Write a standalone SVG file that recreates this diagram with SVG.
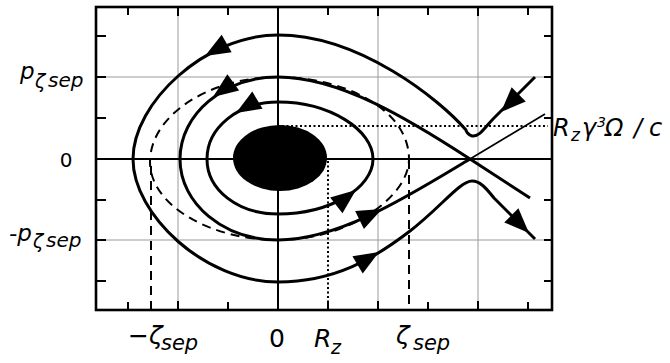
<svg xmlns="http://www.w3.org/2000/svg" width="670" height="363" viewBox="0 0 670 363">
<style>
.grid{stroke:#9a9a9a;stroke-width:1;fill:none}
.axis{stroke:#000;stroke-width:2;fill:none}
.frame{stroke:#000;stroke-width:2.6;fill:none}
.tick{stroke:#000;stroke-width:2}
.curve{stroke:#000;stroke-width:3;fill:none;stroke-linejoin:round}
.thin{stroke:#000;stroke-width:1.8;fill:none}
.dash{stroke:#000;stroke-width:2;fill:none;stroke-dasharray:9 6}
.dot{stroke:#000;stroke-width:2;fill:none;stroke-dasharray:2 2.5}
text{font-family:"DejaVu Sans","Liberation Sans",sans-serif;fill:#000}
.it{font-style:italic}
</style>
<defs>
<path id="ah" d="M0,0 L-25,-10 L-25,10 Z" fill="#000"/>
</defs>
<rect width="670" height="363" fill="#fff"/>
<g id="grid">
<line class="grid" x1="178" y1="7" x2="178" y2="310"/>
<line class="grid" x1="378" y1="7" x2="378" y2="310"/>
<line class="grid" x1="478" y1="7" x2="478" y2="310"/>
<line class="grid" x1="96" y1="77" x2="552" y2="77"/>
<line class="grid" x1="96" y1="240" x2="552" y2="240"/>
<line class="axis" x1="278" y1="7" x2="278" y2="310"/>
<line class="axis" x1="96" y1="159" x2="552" y2="159"/>
</g>
<g id="ticks" class="tick">
<path d="M128,7v8M178,7v9M228,7v8M328,7v8M378,7v9M428,7v8M478,7v9M528,7v8M128,310v-8M178,310v-9M228,310v-8M328,310v-8M378,310v-9M428,310v-8M478,310v-9M528,310v-8M96,36h10M96,77h10M96,118h10M96,200h10M96,240h10M96,281h10M552,36h-8M552,77h-8M552,118h-8M552,200h-8M552,240h-8M552,281h-8"/>
</g>
<rect id="frame" class="frame" x="96" y="7" width="456" height="303"/>
<g id="guides">
<line class="dash" x1="151" y1="166" x2="151" y2="310"/>
<line class="dash" x1="409" y1="160" x2="409" y2="310"/>
<line class="dot" x1="282" y1="126" x2="548" y2="126"/>
<line class="dot" x1="328" y1="161" x2="328" y2="310"/>
</g>
<ellipse id="beam" cx="280" cy="158" rx="47" ry="33" fill="#000"/>
<g id="connectors">
<path class="dash" d="M278,77 C345,77 409,110 409,159 C409,196 350,240 278,240 C210,240 150,205 150,162 C150,115 210,77 278,77"/>
<path class="curve" d="M535,77 L494,118 C485,127 480,137 472,136 C468,135 466,131 466,130 C440,100 360,35 278,35 C205,35 133,103 133,159 C133,215 205,282 278,282 C335,282 375,258 410,231 C440,208 460,181 472,181 C480,181 486,188 494,198 L535,239"/>
<path class="curve" d="M530,198 L470,159 C410,120 340,77 278,77 C224,77 180,114 180,159 C180,204 224,240 278,240 C340,240 410,195 470,159"/>
<path class="thin" d="M470,159 L545,114"/>
<path class="curve" d="M278,102 C330,102 373,130 373,159 C373,188 330,214 278,214 C238,214 207,190 207,159 C207,128 238,102 278,102 Z"/>
<use href="#ah" transform="translate(501,112) rotate(135)"/>
<use href="#ah" transform="translate(529,233) rotate(45)"/>
<use href="#ah" transform="translate(205,56) rotate(150)"/>
<use href="#ah" transform="translate(213,97) rotate(144)"/>
<use href="#ah" transform="translate(236,113) rotate(149)"/>
<use href="#ah" transform="translate(356,190) rotate(-38)"/>
<use href="#ah" transform="translate(382,209) rotate(-26)"/>
<use href="#ah" transform="translate(379,252) rotate(-31)"/>
</g>
<g id="labels">
<text class="it" x="20" y="79" font-size="23">p<tspan x="35" y="88" font-size="19">ζ</tspan><tspan x="48" y="87" font-size="20">sep</tspan></text>
<text x="66" y="167" font-size="20" text-anchor="middle">0</text>
<text class="it" x="9" y="241" font-size="23">-p<tspan x="33" y="248" font-size="19">ζ</tspan><tspan x="46" y="247" font-size="20">sep</tspan></text>
<text class="it" x="553" y="136" font-size="24">R<tspan x="571" y="141" font-size="17">z</tspan><tspan x="582" y="136" font-size="24">γ</tspan><tspan x="597" y="127" font-size="14">3</tspan><tspan x="605" y="136" font-size="24">Ω</tspan><tspan x="634" y="136" font-size="24">/</tspan><tspan x="649" y="136" font-size="24">c</tspan></text>
<text class="it" x="128" y="344" font-size="25">−ζ<tspan x="161" y="350" font-size="21">sep</tspan></text>
<text x="277" y="347" font-size="25" text-anchor="middle">0</text>
<text class="it" x="314" y="347" font-size="25">R<tspan x="331" y="354" font-size="19">z</tspan></text>
<text class="it" x="396" y="344" font-size="25">ζ<tspan x="413" y="350" font-size="21">sep</tspan></text>
</g>
</svg>
